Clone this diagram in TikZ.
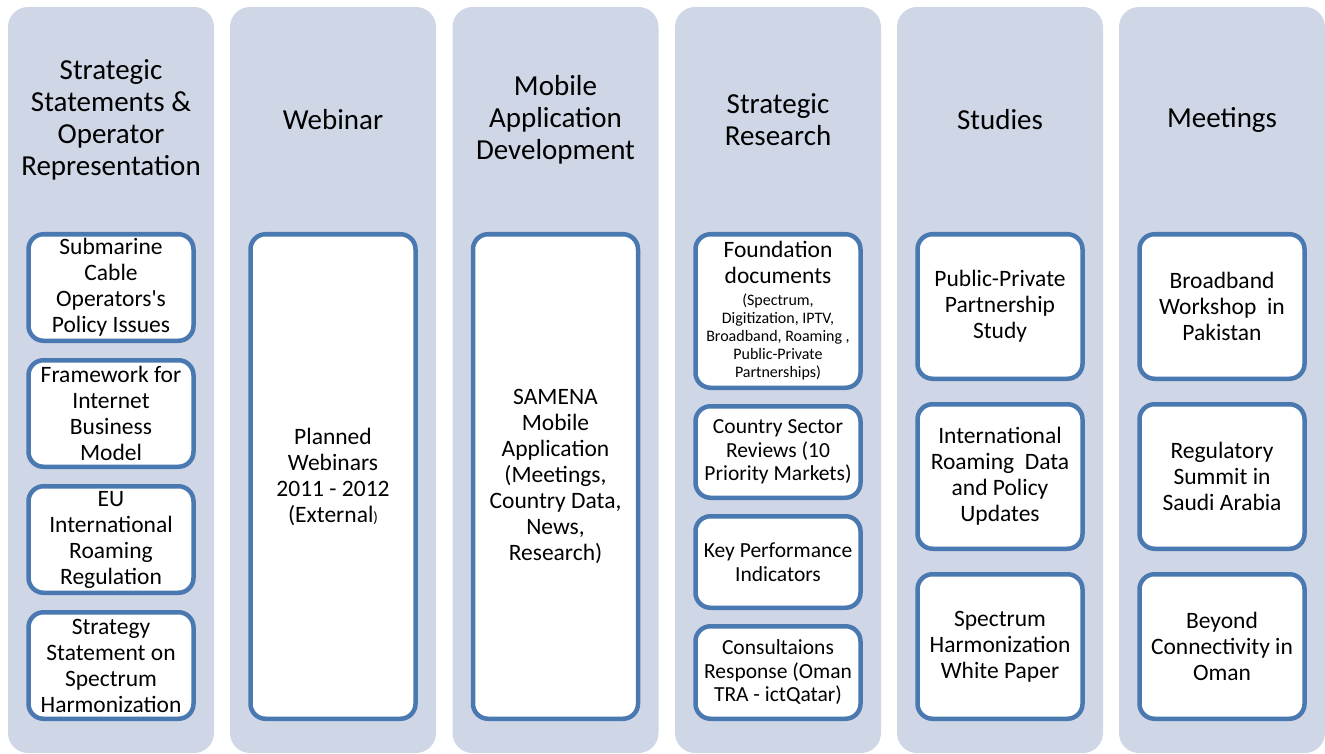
\documentclass[tikz,border=0pt]{standalone}
\usepackage{fontspec}
\setmainfont{Carlito}
\definecolor{colfill}{HTML}{CFD6E6}
\definecolor{boxline}{HTML}{4A78B0}
\begin{document}
\begin{tikzpicture}[x=1pt, y=-1pt,
    column/.style={fill=colfill, rounded corners=20pt, minimum width=206pt, minimum height=746pt, inner sep=0pt},
    title/.style={align=center, font=\fontsize{29}{32}\selectfont},
    item/.style={draw=boxline, line width=4.5pt, fill=white, rounded corners=15pt, minimum width=165pt, inner sep=0pt, align=center, font=\fontsize{23.5}{26}\selectfont},
    smallitem/.style={item, font=\fontsize{21.5}{23.5}\selectfont}]
    \newcommand{\notesize}{\fontsize{16}{18}\selectfont}
    \useasboundingbox (0,0) rectangle (1325,754);
    % columns
    \node[column] (c1) at (111,380) {};
    \node[column] (c2) at (333,380) {};
    \node[column] (c3) at (555.5,380) {};
    \node[column] (c4) at (778,380) {};
    \node[column] (c5) at (1000,380) {};
    \node[column] (c6) at (1222,380) {};
    % titles
    \node[title] (t1) at (111,120) {Strategic\\Statements \&\\Operator\\Representation};
    \node[title] (t2) at (333,120) {Webinar};
    \node[title] (t3) at (555.5,120) {Mobile\\Application\\Development};
    \node[title] (t4) at (778,120) {Strategic\\Research};
    \node[title] (t5) at (1000,120) {Studies};
    \node[title] (t6) at (1222,120) {Meetings};
    % strategic statements
    \node[item, minimum height=106.5pt] (s1) at (111,287.5) {Submarine\\Cable\\Operators\textquotesingle s\\Policy Issues};
    \node[item, minimum height=106.5pt] (s2) at (111,413.5) {Framework for\\Internet\\Business\\Model};
    \node[item, minimum height=106.5pt] (s3) at (111,539.5) {EU\\International\\Roaming\\Regulation};
    \node[item, minimum height=106.5pt] (s4) at (111,665.5) {Strategy\\Statement on\\Spectrum\\Harmonization};
    % webinar and mobile app
    \node[item, minimum height=484.5pt] (w1) at (333,476.5) {Planned\\Webinars\\2011 - 2012\\(External{\fontsize{15}{18}\selectfont)}};
    \node[item, minimum height=484.5pt] (m1) at (555.5,476.5) {SAMENA\\Mobile\\Application\\(Meetings,\\Country Data,\\News,\\Research)};
    % research
    \node[item, minimum height=153.5pt] (r1) at (778,311) {Foundation\\documents\\[-4pt]{\notesize(Spectrum,}\\[-8pt]{\notesize Digitization, IPTV,}\\[-8pt]{\notesize Broadband, Roaming ,}\\[-8pt]{\notesize Public-Private}\\[-8pt]{\notesize Partnerships)}};
    \node[smallitem, minimum height=91.5pt] (r2) at (778,452) {Country Sector\\Reviews (10\\Priority Markets)};
    \node[smallitem, minimum height=91.5pt] (r3) at (778,562) {Key Performance\\Indicators};
    \node[smallitem, minimum height=92.5pt] (r4) at (778,672.5) {Consultaions\\Response (Oman\\TRA - ictQatar)};
    % studies
    \node[item, minimum height=144.5pt] (u1) at (1000,306.5) {Public-Private\\Partnership\\Study};
    \node[item, minimum height=144.5pt] (u2) at (1000,476.5) {International\\Roaming\ \ Data\\and Policy\\Updates};
    \node[item, minimum height=144.5pt] (u3) at (1000,646.5) {Spectrum\\Harmonization\\White Paper};
    % meetings
    \node[item, minimum height=144.5pt] (e1) at (1222,306.5) {Broadband\\Workshop\ \ in\\Pakistan};
    \node[item, minimum height=144.5pt] (e2) at (1222,476.5) {Regulatory\\Summit in\\Saudi Arabia};
    \node[item, minimum height=144.5pt] (e3) at (1222,646.5) {Beyond\\Connectivity in\\Oman};
\end{tikzpicture}
\end{document}
